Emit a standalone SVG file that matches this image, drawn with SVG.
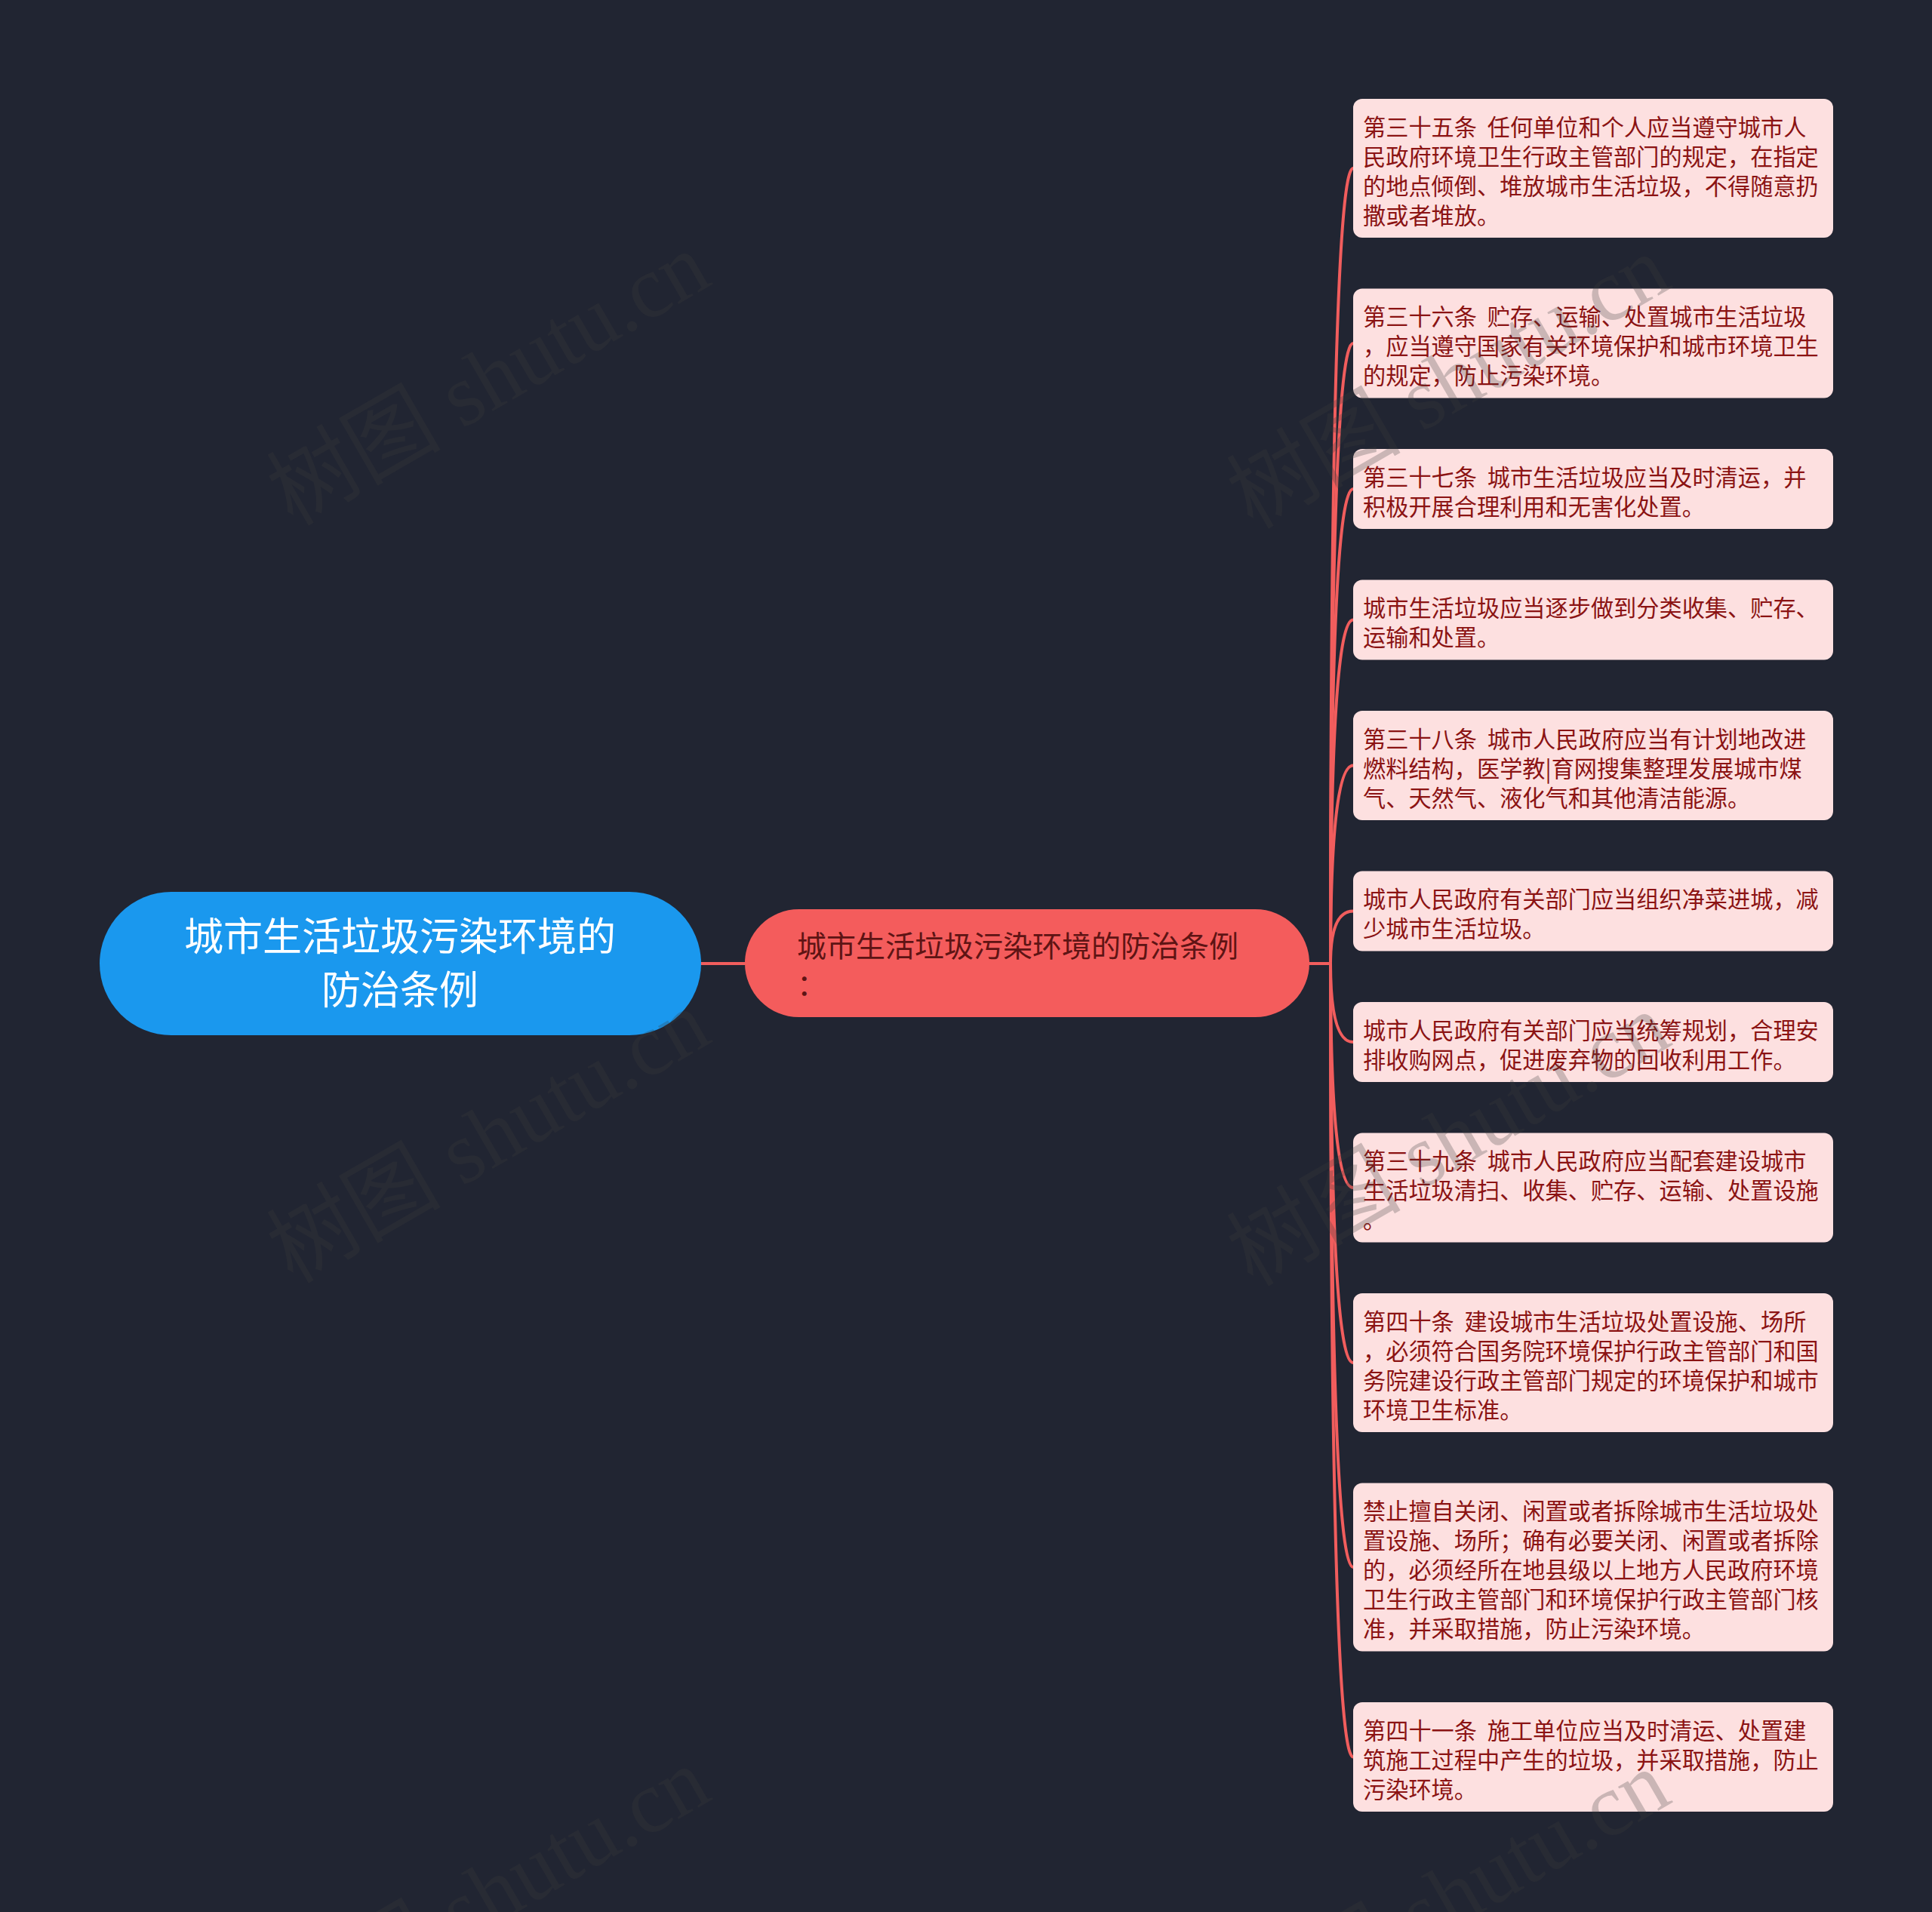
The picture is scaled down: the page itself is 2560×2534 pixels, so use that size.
<svg xmlns="http://www.w3.org/2000/svg" width="2560" height="2534" viewBox="0 0 2560 2534">
<style>
.bg{fill:#212532}
.link{fill:none;stroke:#f15d5d;stroke-width:4;stroke-linecap:round}
.leaf rect{fill:#fde0e0}
.leaf text{font-family:"Noto Sans CJK SC","Noto Sans",sans-serif;font-size:30.2px;word-spacing:7px;fill:#8b1313}
.root rect{fill:#1a98ee}
.root text{font-family:"Noto Sans CJK SC","Noto Sans",sans-serif;font-size:52px;fill:#ffffff;text-anchor:middle}
.mid rect{fill:#f45c5c}
.mid text{font-family:"Noto Sans CJK SC","Noto Sans",sans-serif;font-size:39px;fill:#5e1414}
.wm{font-family:"Liberation Serif","Noto Sans CJK SC",serif;font-size:118px;fill:#3c3c3c;opacity:0.26}
</style>
<rect class="bg" x="0" y="0" width="2560" height="2534"/>
<g id="connectors">
<path class="link" d="M929,1277 L987,1277"/>
<path class="link" d="M1735,1277 L1763,1277"/>
<path class="link" d="M1763,1277 Q1763,223 1793,223"/>
<path class="link" d="M1763,1277 Q1763,455 1793,455"/>
<path class="link" d="M1763,1277 Q1763,648 1793,648"/>
<path class="link" d="M1763,1277 Q1763,821.5 1793,821.5"/>
<path class="link" d="M1763,1277 Q1763,1014.5 1793,1014.5"/>
<path class="link" d="M1763,1277 Q1763,1207.5 1793,1207.5"/>
<path class="link" d="M1763,1277 Q1763,1381 1793,1381"/>
<path class="link" d="M1763,1277 Q1763,1574 1793,1574"/>
<path class="link" d="M1763,1277 Q1763,1806 1793,1806"/>
<path class="link" d="M1763,1277 Q1763,2077 1793,2077"/>
<path class="link" d="M1763,1277 Q1763,2328.5 1793,2328.5"/>
</g>
<g id="root" class="root">
<rect x="132" y="1182" width="797" height="190" rx="95"/>
<text x="530" y="1260">城市生活垃圾污染环境的</text>
<text x="530" y="1331">防治条例</text>
</g>
<g id="mid" class="mid">
<rect x="987" y="1205" width="748" height="143" rx="71.5"/>
<text x="1056" y="1268">城市生活垃圾污染环境的防治条例</text>
<text x="1056" y="1319">：</text>
</g>
<g id="leaf1" class="leaf">
<rect x="1793" y="131" width="636" height="184" rx="12"/>
<text x="1806" y="179.5">第三十五条 任何单位和个人应当遵守城市人</text>
<text x="1806" y="218.5">民政府环境卫生行政主管部门的规定，在指定</text>
<text x="1806" y="257.5">的地点倾倒、堆放城市生活垃圾，不得随意扔</text>
<text x="1806" y="296.5">撒或者堆放。</text>
</g>
<g id="leaf2" class="leaf">
<rect x="1793" y="382.5" width="636" height="145" rx="12"/>
<text x="1806" y="431">第三十六条 贮存、运输、处置城市生活垃圾</text>
<text x="1806" y="470">，应当遵守国家有关环境保护和城市环境卫生</text>
<text x="1806" y="509">的规定，防止污染环境。</text>
</g>
<g id="leaf3" class="leaf">
<rect x="1793" y="595" width="636" height="106" rx="12"/>
<text x="1806" y="643.5">第三十七条 城市生活垃圾应当及时清运，并</text>
<text x="1806" y="682.5">积极开展合理利用和无害化处置。</text>
</g>
<g id="leaf4" class="leaf">
<rect x="1793" y="768.5" width="636" height="106" rx="12"/>
<text x="1806" y="817">城市生活垃圾应当逐步做到分类收集、贮存、</text>
<text x="1806" y="856">运输和处置。</text>
</g>
<g id="leaf5" class="leaf">
<rect x="1793" y="942" width="636" height="145" rx="12"/>
<text x="1806" y="990.5">第三十八条 城市人民政府应当有计划地改进</text>
<text x="1806" y="1029.5">燃料结构，医学教|育网搜集整理发展城市煤</text>
<text x="1806" y="1068.5">气、天然气、液化气和其他清洁能源。</text>
</g>
<g id="leaf6" class="leaf">
<rect x="1793" y="1154.5" width="636" height="106" rx="12"/>
<text x="1806" y="1203">城市人民政府有关部门应当组织净菜进城，减</text>
<text x="1806" y="1242">少城市生活垃圾。</text>
</g>
<g id="leaf7" class="leaf">
<rect x="1793" y="1328" width="636" height="106" rx="12"/>
<text x="1806" y="1376.5">城市人民政府有关部门应当统筹规划，合理安</text>
<text x="1806" y="1415.5">排收购网点，促进废弃物的回收利用工作。</text>
</g>
<g id="leaf8" class="leaf">
<rect x="1793" y="1501.5" width="636" height="145" rx="12"/>
<text x="1806" y="1550">第三十九条 城市人民政府应当配套建设城市</text>
<text x="1806" y="1589">生活垃圾清扫、收集、贮存、运输、处置设施</text>
<text x="1806" y="1628">。</text>
</g>
<g id="leaf9" class="leaf">
<rect x="1793" y="1714" width="636" height="184" rx="12"/>
<text x="1806" y="1762.5">第四十条 建设城市生活垃圾处置设施、场所</text>
<text x="1806" y="1801.5">，必须符合国务院环境保护行政主管部门和国</text>
<text x="1806" y="1840.5">务院建设行政主管部门规定的环境保护和城市</text>
<text x="1806" y="1879.5">环境卫生标准。</text>
</g>
<g id="leaf10" class="leaf">
<rect x="1793" y="1965.5" width="636" height="223" rx="12"/>
<text x="1806" y="2014">禁止擅自关闭、闲置或者拆除城市生活垃圾处</text>
<text x="1806" y="2053">置设施、场所；确有必要关闭、闲置或者拆除</text>
<text x="1806" y="2092">的，必须经所在地县级以上地方人民政府环境</text>
<text x="1806" y="2131">卫生行政主管部门和环境保护行政主管部门核</text>
<text x="1806" y="2170">准，并采取措施，防止污染环境。</text>
</g>
<g id="leaf11" class="leaf">
<rect x="1793" y="2256" width="636" height="145" rx="12"/>
<text x="1806" y="2304.5">第四十一条 施工单位应当及时清运、处置建</text>
<text x="1806" y="2343.5">筑施工过程中产生的垃圾，并采取措施，防止</text>
<text x="1806" y="2382.5">污染环境。</text>
</g>
<g id="watermarks">
<text class="wm" transform="translate(388,698) rotate(-30)" textLength="645" lengthAdjust="spacingAndGlyphs">树图 shutu.cn</text>
<text class="wm" transform="translate(388,1702) rotate(-30)" textLength="645" lengthAdjust="spacingAndGlyphs">树图 shutu.cn</text>
<text class="wm" transform="translate(388,2706) rotate(-30)" textLength="645" lengthAdjust="spacingAndGlyphs">树图 shutu.cn</text>
<text class="wm" transform="translate(1660,702) rotate(-30)" textLength="645" lengthAdjust="spacingAndGlyphs">树图 shutu.cn</text>
<text class="wm" transform="translate(1660,1706) rotate(-30)" textLength="645" lengthAdjust="spacingAndGlyphs">树图 shutu.cn</text>
<text class="wm" transform="translate(1660,2710) rotate(-30)" textLength="645" lengthAdjust="spacingAndGlyphs">树图 shutu.cn</text>
</g>
</svg>
